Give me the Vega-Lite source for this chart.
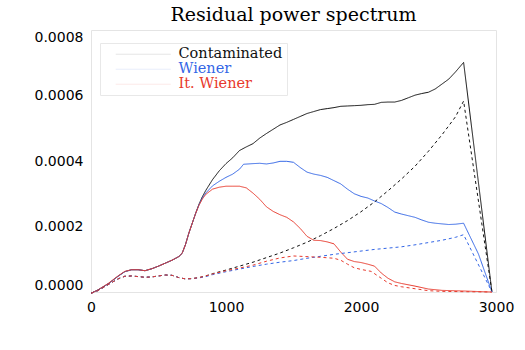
{
  "$schema": "https://vega.github.io/schema/vega-lite/v6.json",
  "width": 405,
  "height": 262,
  "autosize": {"type": "none"},
  "padding": {"left": 91, "top": 30, "right": 29, "bottom": 58},
  "background": "white",
  "title": {
    "text": "Residual power spectrum",
    "font": "DejaVu Serif",
    "fontSize": 19,
    "fontWeight": "normal",
    "color": "black",
    "anchor": "middle",
    "frame": "group",
    "baseline": "alphabetic",
    "offset": -10
  },
  "config": {
    "view": {"stroke": "#e4e4e4", "strokeWidth": 1},
    "axis": {
      "domain": false,
      "grid": false,
      "ticks": false,
      "labelFont": "DejaVu Sans",
      "labelFontSize": 14,
      "labelColor": "black",
      "title": null
    }
  },
  "data": {
    "values": [
      {"m": "Contaminated", "k": "solid", "x": 0, "y": -0.000004},
      {"m": "Contaminated", "k": "solid", "x": 50, "y": 0.000006},
      {"m": "Contaminated", "k": "solid", "x": 100, "y": 0.000018},
      {"m": "Contaminated", "k": "solid", "x": 130, "y": 0.000026},
      {"m": "Contaminated", "k": "solid", "x": 200, "y": 0.000048},
      {"m": "Contaminated", "k": "solid", "x": 250, "y": 0.000062},
      {"m": "Contaminated", "k": "solid", "x": 300, "y": 0.000068},
      {"m": "Contaminated", "k": "solid", "x": 350, "y": 0.000068},
      {"m": "Contaminated", "k": "solid", "x": 400, "y": 0.000065},
      {"m": "Contaminated", "k": "solid", "x": 450, "y": 0.000071},
      {"m": "Contaminated", "k": "solid", "x": 500, "y": 0.000079},
      {"m": "Contaminated", "k": "solid", "x": 550, "y": 0.000088},
      {"m": "Contaminated", "k": "solid", "x": 600, "y": 0.000097},
      {"m": "Contaminated", "k": "solid", "x": 650, "y": 0.000108},
      {"m": "Contaminated", "k": "solid", "x": 675, "y": 0.000118},
      {"m": "Contaminated", "k": "solid", "x": 700, "y": 0.000145},
      {"m": "Contaminated", "k": "solid", "x": 725, "y": 0.00018},
      {"m": "Contaminated", "k": "solid", "x": 750, "y": 0.00021},
      {"m": "Contaminated", "k": "solid", "x": 775, "y": 0.00024},
      {"m": "Contaminated", "k": "solid", "x": 800, "y": 0.000268},
      {"m": "Contaminated", "k": "solid", "x": 825, "y": 0.000291},
      {"m": "Contaminated", "k": "solid", "x": 850, "y": 0.00031},
      {"m": "Contaminated", "k": "solid", "x": 900, "y": 0.000343},
      {"m": "Contaminated", "k": "solid", "x": 950, "y": 0.00037},
      {"m": "Contaminated", "k": "solid", "x": 1000, "y": 0.000392},
      {"m": "Contaminated", "k": "solid", "x": 1050, "y": 0.00041},
      {"m": "Contaminated", "k": "solid", "x": 1100, "y": 0.000432},
      {"m": "Contaminated", "k": "solid", "x": 1150, "y": 0.000443},
      {"m": "Contaminated", "k": "solid", "x": 1200, "y": 0.000453},
      {"m": "Contaminated", "k": "solid", "x": 1250, "y": 0.00047},
      {"m": "Contaminated", "k": "solid", "x": 1300, "y": 0.000484},
      {"m": "Contaminated", "k": "solid", "x": 1350, "y": 0.000497},
      {"m": "Contaminated", "k": "solid", "x": 1400, "y": 0.00051},
      {"m": "Contaminated", "k": "solid", "x": 1450, "y": 0.000518},
      {"m": "Contaminated", "k": "solid", "x": 1500, "y": 0.000527},
      {"m": "Contaminated", "k": "solid", "x": 1550, "y": 0.000536},
      {"m": "Contaminated", "k": "solid", "x": 1600, "y": 0.000545},
      {"m": "Contaminated", "k": "solid", "x": 1650, "y": 0.000551},
      {"m": "Contaminated", "k": "solid", "x": 1700, "y": 0.000557},
      {"m": "Contaminated", "k": "solid", "x": 1750, "y": 0.00056},
      {"m": "Contaminated", "k": "solid", "x": 1800, "y": 0.000563},
      {"m": "Contaminated", "k": "solid", "x": 1850, "y": 0.000567},
      {"m": "Contaminated", "k": "solid", "x": 1900, "y": 0.000568},
      {"m": "Contaminated", "k": "solid", "x": 1950, "y": 0.000569},
      {"m": "Contaminated", "k": "solid", "x": 2000, "y": 0.00057},
      {"m": "Contaminated", "k": "solid", "x": 2050, "y": 0.000572},
      {"m": "Contaminated", "k": "solid", "x": 2100, "y": 0.000573},
      {"m": "Contaminated", "k": "solid", "x": 2150, "y": 0.000579},
      {"m": "Contaminated", "k": "solid", "x": 2200, "y": 0.00058},
      {"m": "Contaminated", "k": "solid", "x": 2250, "y": 0.00058},
      {"m": "Contaminated", "k": "solid", "x": 2300, "y": 0.000585},
      {"m": "Contaminated", "k": "solid", "x": 2350, "y": 0.000593},
      {"m": "Contaminated", "k": "solid", "x": 2400, "y": 0.000601},
      {"m": "Contaminated", "k": "solid", "x": 2450, "y": 0.000606},
      {"m": "Contaminated", "k": "solid", "x": 2500, "y": 0.00061},
      {"m": "Contaminated", "k": "solid", "x": 2550, "y": 0.00062},
      {"m": "Contaminated", "k": "solid", "x": 2600, "y": 0.000635},
      {"m": "Contaminated", "k": "solid", "x": 2650, "y": 0.00065},
      {"m": "Contaminated", "k": "solid", "x": 2700, "y": 0.000672},
      {"m": "Contaminated", "k": "solid", "x": 2760, "y": 0.000701},
      {"m": "Contaminated", "k": "solid", "x": 2970, "y": 0.0},

      {"m": "Wiener", "k": "solid", "x": 0, "y": -0.000004},
      {"m": "Wiener", "k": "solid", "x": 50, "y": 0.000006},
      {"m": "Wiener", "k": "solid", "x": 100, "y": 0.000018},
      {"m": "Wiener", "k": "solid", "x": 130, "y": 0.000026},
      {"m": "Wiener", "k": "solid", "x": 200, "y": 0.000048},
      {"m": "Wiener", "k": "solid", "x": 250, "y": 0.000062},
      {"m": "Wiener", "k": "solid", "x": 300, "y": 0.000068},
      {"m": "Wiener", "k": "solid", "x": 350, "y": 0.000068},
      {"m": "Wiener", "k": "solid", "x": 400, "y": 0.000065},
      {"m": "Wiener", "k": "solid", "x": 450, "y": 0.000071},
      {"m": "Wiener", "k": "solid", "x": 500, "y": 0.000079},
      {"m": "Wiener", "k": "solid", "x": 550, "y": 0.000088},
      {"m": "Wiener", "k": "solid", "x": 600, "y": 0.000097},
      {"m": "Wiener", "k": "solid", "x": 650, "y": 0.000108},
      {"m": "Wiener", "k": "solid", "x": 675, "y": 0.000118},
      {"m": "Wiener", "k": "solid", "x": 700, "y": 0.000145},
      {"m": "Wiener", "k": "solid", "x": 725, "y": 0.00018},
      {"m": "Wiener", "k": "solid", "x": 750, "y": 0.00021},
      {"m": "Wiener", "k": "solid", "x": 775, "y": 0.00024},
      {"m": "Wiener", "k": "solid", "x": 800, "y": 0.000266},
      {"m": "Wiener", "k": "solid", "x": 825, "y": 0.000287},
      {"m": "Wiener", "k": "solid", "x": 850, "y": 0.000302},
      {"m": "Wiener", "k": "solid", "x": 900, "y": 0.000324},
      {"m": "Wiener", "k": "solid", "x": 950, "y": 0.000338},
      {"m": "Wiener", "k": "solid", "x": 1000, "y": 0.00035},
      {"m": "Wiener", "k": "solid", "x": 1050, "y": 0.00036},
      {"m": "Wiener", "k": "solid", "x": 1100, "y": 0.000375},
      {"m": "Wiener", "k": "solid", "x": 1130, "y": 0.00039},
      {"m": "Wiener", "k": "solid", "x": 1200, "y": 0.000392},
      {"m": "Wiener", "k": "solid", "x": 1250, "y": 0.000393},
      {"m": "Wiener", "k": "solid", "x": 1300, "y": 0.000391},
      {"m": "Wiener", "k": "solid", "x": 1350, "y": 0.000394},
      {"m": "Wiener", "k": "solid", "x": 1400, "y": 0.000399},
      {"m": "Wiener", "k": "solid", "x": 1450, "y": 0.000399},
      {"m": "Wiener", "k": "solid", "x": 1500, "y": 0.000396},
      {"m": "Wiener", "k": "solid", "x": 1550, "y": 0.00038},
      {"m": "Wiener", "k": "solid", "x": 1600, "y": 0.000366},
      {"m": "Wiener", "k": "solid", "x": 1650, "y": 0.00036},
      {"m": "Wiener", "k": "solid", "x": 1700, "y": 0.000356},
      {"m": "Wiener", "k": "solid", "x": 1750, "y": 0.00035},
      {"m": "Wiener", "k": "solid", "x": 1800, "y": 0.00034},
      {"m": "Wiener", "k": "solid", "x": 1850, "y": 0.00033},
      {"m": "Wiener", "k": "solid", "x": 1900, "y": 0.000314},
      {"m": "Wiener", "k": "solid", "x": 1950, "y": 0.0003},
      {"m": "Wiener", "k": "solid", "x": 2000, "y": 0.000292},
      {"m": "Wiener", "k": "solid", "x": 2050, "y": 0.000287},
      {"m": "Wiener", "k": "solid", "x": 2100, "y": 0.000278},
      {"m": "Wiener", "k": "solid", "x": 2150, "y": 0.00027},
      {"m": "Wiener", "k": "solid", "x": 2200, "y": 0.000258},
      {"m": "Wiener", "k": "solid", "x": 2250, "y": 0.000244},
      {"m": "Wiener", "k": "solid", "x": 2300, "y": 0.000238},
      {"m": "Wiener", "k": "solid", "x": 2350, "y": 0.000233},
      {"m": "Wiener", "k": "solid", "x": 2400, "y": 0.000228},
      {"m": "Wiener", "k": "solid", "x": 2450, "y": 0.00022},
      {"m": "Wiener", "k": "solid", "x": 2500, "y": 0.000213},
      {"m": "Wiener", "k": "solid", "x": 2550, "y": 0.00021},
      {"m": "Wiener", "k": "solid", "x": 2600, "y": 0.000208},
      {"m": "Wiener", "k": "solid", "x": 2650, "y": 0.000206},
      {"m": "Wiener", "k": "solid", "x": 2700, "y": 0.000207},
      {"m": "Wiener", "k": "solid", "x": 2760, "y": 0.00021},
      {"m": "Wiener", "k": "solid", "x": 2870, "y": 0.000116},
      {"m": "Wiener", "k": "solid", "x": 2970, "y": 0.0},

      {"m": "It. Wiener", "k": "solid", "x": 0, "y": -0.000004},
      {"m": "It. Wiener", "k": "solid", "x": 50, "y": 0.000006},
      {"m": "It. Wiener", "k": "solid", "x": 100, "y": 0.000019},
      {"m": "It. Wiener", "k": "solid", "x": 130, "y": 0.000027},
      {"m": "It. Wiener", "k": "solid", "x": 200, "y": 0.000049},
      {"m": "It. Wiener", "k": "solid", "x": 250, "y": 0.000063},
      {"m": "It. Wiener", "k": "solid", "x": 300, "y": 0.000068},
      {"m": "It. Wiener", "k": "solid", "x": 350, "y": 0.000068},
      {"m": "It. Wiener", "k": "solid", "x": 400, "y": 0.000065},
      {"m": "It. Wiener", "k": "solid", "x": 450, "y": 0.000071},
      {"m": "It. Wiener", "k": "solid", "x": 500, "y": 0.000079},
      {"m": "It. Wiener", "k": "solid", "x": 550, "y": 0.000088},
      {"m": "It. Wiener", "k": "solid", "x": 600, "y": 0.000097},
      {"m": "It. Wiener", "k": "solid", "x": 650, "y": 0.000108},
      {"m": "It. Wiener", "k": "solid", "x": 675, "y": 0.000118},
      {"m": "It. Wiener", "k": "solid", "x": 700, "y": 0.000145},
      {"m": "It. Wiener", "k": "solid", "x": 725, "y": 0.00018},
      {"m": "It. Wiener", "k": "solid", "x": 750, "y": 0.00021},
      {"m": "It. Wiener", "k": "solid", "x": 775, "y": 0.00024},
      {"m": "It. Wiener", "k": "solid", "x": 800, "y": 0.000265},
      {"m": "It. Wiener", "k": "solid", "x": 825, "y": 0.000284},
      {"m": "It. Wiener", "k": "solid", "x": 850, "y": 0.000298},
      {"m": "It. Wiener", "k": "solid", "x": 900, "y": 0.000314},
      {"m": "It. Wiener", "k": "solid", "x": 950, "y": 0.00032},
      {"m": "It. Wiener", "k": "solid", "x": 1000, "y": 0.000323},
      {"m": "It. Wiener", "k": "solid", "x": 1050, "y": 0.000323},
      {"m": "It. Wiener", "k": "solid", "x": 1100, "y": 0.000323},
      {"m": "It. Wiener", "k": "solid", "x": 1150, "y": 0.000318},
      {"m": "It. Wiener", "k": "solid", "x": 1200, "y": 0.000302},
      {"m": "It. Wiener", "k": "solid", "x": 1250, "y": 0.000283},
      {"m": "It. Wiener", "k": "solid", "x": 1300, "y": 0.00026},
      {"m": "It. Wiener", "k": "solid", "x": 1350, "y": 0.000246},
      {"m": "It. Wiener", "k": "solid", "x": 1400, "y": 0.000236},
      {"m": "It. Wiener", "k": "solid", "x": 1450, "y": 0.000228},
      {"m": "It. Wiener", "k": "solid", "x": 1500, "y": 0.000214},
      {"m": "It. Wiener", "k": "solid", "x": 1550, "y": 0.000194},
      {"m": "It. Wiener", "k": "solid", "x": 1600, "y": 0.00017},
      {"m": "It. Wiener", "k": "solid", "x": 1650, "y": 0.000158},
      {"m": "It. Wiener", "k": "solid", "x": 1700, "y": 0.000157},
      {"m": "It. Wiener", "k": "solid", "x": 1750, "y": 0.000153},
      {"m": "It. Wiener", "k": "solid", "x": 1800, "y": 0.000147},
      {"m": "It. Wiener", "k": "solid", "x": 1850, "y": 0.000122},
      {"m": "It. Wiener", "k": "solid", "x": 1900, "y": 0.0001},
      {"m": "It. Wiener", "k": "solid", "x": 1950, "y": 0.000093},
      {"m": "It. Wiener", "k": "solid", "x": 2000, "y": 0.00009},
      {"m": "It. Wiener", "k": "solid", "x": 2050, "y": 0.000085},
      {"m": "It. Wiener", "k": "solid", "x": 2100, "y": 0.000079},
      {"m": "It. Wiener", "k": "solid", "x": 2150, "y": 0.000058},
      {"m": "It. Wiener", "k": "solid", "x": 2200, "y": 0.000042},
      {"m": "It. Wiener", "k": "solid", "x": 2250, "y": 0.000031},
      {"m": "It. Wiener", "k": "solid", "x": 2300, "y": 0.000026},
      {"m": "It. Wiener", "k": "solid", "x": 2400, "y": 0.000018},
      {"m": "It. Wiener", "k": "solid", "x": 2500, "y": 0.000009},
      {"m": "It. Wiener", "k": "solid", "x": 2600, "y": 0.000005},
      {"m": "It. Wiener", "k": "solid", "x": 2760, "y": 0.000003},
      {"m": "It. Wiener", "k": "solid", "x": 2970, "y": 0.0},

      {"m": "Contaminated", "k": "dashed", "x": 0, "y": -0.000004},
      {"m": "Contaminated", "k": "dashed", "x": 50, "y": 0.000004},
      {"m": "Contaminated", "k": "dashed", "x": 100, "y": 0.000016},
      {"m": "Contaminated", "k": "dashed", "x": 150, "y": 0.000028},
      {"m": "Contaminated", "k": "dashed", "x": 200, "y": 0.00004},
      {"m": "Contaminated", "k": "dashed", "x": 250, "y": 0.000048},
      {"m": "Contaminated", "k": "dashed", "x": 300, "y": 0.000049},
      {"m": "Contaminated", "k": "dashed", "x": 350, "y": 0.000047},
      {"m": "Contaminated", "k": "dashed", "x": 400, "y": 0.000045},
      {"m": "Contaminated", "k": "dashed", "x": 450, "y": 0.000046},
      {"m": "Contaminated", "k": "dashed", "x": 500, "y": 0.000049},
      {"m": "Contaminated", "k": "dashed", "x": 550, "y": 0.000052},
      {"m": "Contaminated", "k": "dashed", "x": 600, "y": 0.000051},
      {"m": "Contaminated", "k": "dashed", "x": 650, "y": 0.000044},
      {"m": "Contaminated", "k": "dashed", "x": 700, "y": 0.00004},
      {"m": "Contaminated", "k": "dashed", "x": 750, "y": 0.000041},
      {"m": "Contaminated", "k": "dashed", "x": 800, "y": 0.000044},
      {"m": "Contaminated", "k": "dashed", "x": 850, "y": 0.000049},
      {"m": "Contaminated", "k": "dashed", "x": 900, "y": 0.000056},
      {"m": "Contaminated", "k": "dashed", "x": 1000, "y": 0.000067},
      {"m": "Contaminated", "k": "dashed", "x": 1100, "y": 0.000079},
      {"m": "Contaminated", "k": "dashed", "x": 1200, "y": 0.000091},
      {"m": "Contaminated", "k": "dashed", "x": 1300, "y": 0.000105},
      {"m": "Contaminated", "k": "dashed", "x": 1400, "y": 0.000119},
      {"m": "Contaminated", "k": "dashed", "x": 1500, "y": 0.000135},
      {"m": "Contaminated", "k": "dashed", "x": 1600, "y": 0.000152},
      {"m": "Contaminated", "k": "dashed", "x": 1700, "y": 0.000172},
      {"m": "Contaminated", "k": "dashed", "x": 1800, "y": 0.000194},
      {"m": "Contaminated", "k": "dashed", "x": 1900, "y": 0.000218},
      {"m": "Contaminated", "k": "dashed", "x": 2000, "y": 0.000245},
      {"m": "Contaminated", "k": "dashed", "x": 2100, "y": 0.000275},
      {"m": "Contaminated", "k": "dashed", "x": 2200, "y": 0.000309},
      {"m": "Contaminated", "k": "dashed", "x": 2300, "y": 0.000345},
      {"m": "Contaminated", "k": "dashed", "x": 2400, "y": 0.000384},
      {"m": "Contaminated", "k": "dashed", "x": 2500, "y": 0.00043},
      {"m": "Contaminated", "k": "dashed", "x": 2600, "y": 0.00048},
      {"m": "Contaminated", "k": "dashed", "x": 2700, "y": 0.000535},
      {"m": "Contaminated", "k": "dashed", "x": 2760, "y": 0.000583},
      {"m": "Contaminated", "k": "dashed", "x": 2970, "y": 0.0},

      {"m": "Wiener", "k": "dashed", "x": 0, "y": -0.000004},
      {"m": "Wiener", "k": "dashed", "x": 50, "y": 0.000004},
      {"m": "Wiener", "k": "dashed", "x": 100, "y": 0.000016},
      {"m": "Wiener", "k": "dashed", "x": 150, "y": 0.000028},
      {"m": "Wiener", "k": "dashed", "x": 200, "y": 0.00004},
      {"m": "Wiener", "k": "dashed", "x": 250, "y": 0.000048},
      {"m": "Wiener", "k": "dashed", "x": 300, "y": 0.000049},
      {"m": "Wiener", "k": "dashed", "x": 350, "y": 0.000047},
      {"m": "Wiener", "k": "dashed", "x": 400, "y": 0.000045},
      {"m": "Wiener", "k": "dashed", "x": 450, "y": 0.000046},
      {"m": "Wiener", "k": "dashed", "x": 500, "y": 0.000049},
      {"m": "Wiener", "k": "dashed", "x": 550, "y": 0.000052},
      {"m": "Wiener", "k": "dashed", "x": 600, "y": 0.000051},
      {"m": "Wiener", "k": "dashed", "x": 650, "y": 0.000044},
      {"m": "Wiener", "k": "dashed", "x": 700, "y": 0.00004},
      {"m": "Wiener", "k": "dashed", "x": 750, "y": 0.000041},
      {"m": "Wiener", "k": "dashed", "x": 800, "y": 0.000043},
      {"m": "Wiener", "k": "dashed", "x": 850, "y": 0.000047},
      {"m": "Wiener", "k": "dashed", "x": 900, "y": 0.000053},
      {"m": "Wiener", "k": "dashed", "x": 1000, "y": 0.000062},
      {"m": "Wiener", "k": "dashed", "x": 1100, "y": 0.00007},
      {"m": "Wiener", "k": "dashed", "x": 1200, "y": 0.000078},
      {"m": "Wiener", "k": "dashed", "x": 1300, "y": 0.000085},
      {"m": "Wiener", "k": "dashed", "x": 1400, "y": 0.000091},
      {"m": "Wiener", "k": "dashed", "x": 1500, "y": 0.000096},
      {"m": "Wiener", "k": "dashed", "x": 1600, "y": 0.000103},
      {"m": "Wiener", "k": "dashed", "x": 1700, "y": 0.000109},
      {"m": "Wiener", "k": "dashed", "x": 1800, "y": 0.000115},
      {"m": "Wiener", "k": "dashed", "x": 1900, "y": 0.00012},
      {"m": "Wiener", "k": "dashed", "x": 2000, "y": 0.000125},
      {"m": "Wiener", "k": "dashed", "x": 2100, "y": 0.00013},
      {"m": "Wiener", "k": "dashed", "x": 2200, "y": 0.000134},
      {"m": "Wiener", "k": "dashed", "x": 2300, "y": 0.000138},
      {"m": "Wiener", "k": "dashed", "x": 2400, "y": 0.000144},
      {"m": "Wiener", "k": "dashed", "x": 2500, "y": 0.000151},
      {"m": "Wiener", "k": "dashed", "x": 2600, "y": 0.000158},
      {"m": "Wiener", "k": "dashed", "x": 2700, "y": 0.000167},
      {"m": "Wiener", "k": "dashed", "x": 2760, "y": 0.000175},
      {"m": "Wiener", "k": "dashed", "x": 2970, "y": 0.0},

      {"m": "It. Wiener", "k": "dashed", "x": 0, "y": -0.000004},
      {"m": "It. Wiener", "k": "dashed", "x": 50, "y": 0.000004},
      {"m": "It. Wiener", "k": "dashed", "x": 100, "y": 0.000016},
      {"m": "It. Wiener", "k": "dashed", "x": 150, "y": 0.000028},
      {"m": "It. Wiener", "k": "dashed", "x": 200, "y": 0.00004},
      {"m": "It. Wiener", "k": "dashed", "x": 250, "y": 0.000048},
      {"m": "It. Wiener", "k": "dashed", "x": 300, "y": 0.000049},
      {"m": "It. Wiener", "k": "dashed", "x": 350, "y": 0.000047},
      {"m": "It. Wiener", "k": "dashed", "x": 400, "y": 0.000045},
      {"m": "It. Wiener", "k": "dashed", "x": 450, "y": 0.000046},
      {"m": "It. Wiener", "k": "dashed", "x": 500, "y": 0.000049},
      {"m": "It. Wiener", "k": "dashed", "x": 550, "y": 0.000052},
      {"m": "It. Wiener", "k": "dashed", "x": 600, "y": 0.000051},
      {"m": "It. Wiener", "k": "dashed", "x": 650, "y": 0.000044},
      {"m": "It. Wiener", "k": "dashed", "x": 700, "y": 0.00004},
      {"m": "It. Wiener", "k": "dashed", "x": 750, "y": 0.000041},
      {"m": "It. Wiener", "k": "dashed", "x": 800, "y": 0.000044},
      {"m": "It. Wiener", "k": "dashed", "x": 850, "y": 0.000049},
      {"m": "It. Wiener", "k": "dashed", "x": 900, "y": 0.000055},
      {"m": "It. Wiener", "k": "dashed", "x": 1000, "y": 0.000065},
      {"m": "It. Wiener", "k": "dashed", "x": 1100, "y": 0.000073},
      {"m": "It. Wiener", "k": "dashed", "x": 1200, "y": 0.000082},
      {"m": "It. Wiener", "k": "dashed", "x": 1300, "y": 0.000094},
      {"m": "It. Wiener", "k": "dashed", "x": 1400, "y": 0.000104},
      {"m": "It. Wiener", "k": "dashed", "x": 1500, "y": 0.00011},
      {"m": "It. Wiener", "k": "dashed", "x": 1600, "y": 0.000108},
      {"m": "It. Wiener", "k": "dashed", "x": 1700, "y": 0.000106},
      {"m": "It. Wiener", "k": "dashed", "x": 1800, "y": 0.000103},
      {"m": "It. Wiener", "k": "dashed", "x": 1850, "y": 0.000097},
      {"m": "It. Wiener", "k": "dashed", "x": 1900, "y": 0.000085},
      {"m": "It. Wiener", "k": "dashed", "x": 1950, "y": 0.000074},
      {"m": "It. Wiener", "k": "dashed", "x": 2000, "y": 0.000069},
      {"m": "It. Wiener", "k": "dashed", "x": 2075, "y": 0.000063},
      {"m": "It. Wiener", "k": "dashed", "x": 2150, "y": 0.000042},
      {"m": "It. Wiener", "k": "dashed", "x": 2200, "y": 0.000028},
      {"m": "It. Wiener", "k": "dashed", "x": 2250, "y": 0.00002},
      {"m": "It. Wiener", "k": "dashed", "x": 2300, "y": 0.000016},
      {"m": "It. Wiener", "k": "dashed", "x": 2400, "y": 0.00001},
      {"m": "It. Wiener", "k": "dashed", "x": 2500, "y": 0.000004},
      {"m": "It. Wiener", "k": "dashed", "x": 2600, "y": 0.000002},
      {"m": "It. Wiener", "k": "dashed", "x": 2760, "y": 0.000001},
      {"m": "It. Wiener", "k": "dashed", "x": 2970, "y": 0.0}
    ]
  },
  "mark": {"type": "line", "strokeWidth": 1, "clip": false},
  "encoding": {
    "x": {
      "field": "x",
      "type": "quantitative",
      "scale": {"domain": [0, 3000], "nice": false, "zero": false},
      "axis": {"values": [0, 1000, 2000, 3000], "format": "d", "labelPadding": 8, "labelFlush": false}
    },
    "y": {
      "field": "y",
      "type": "quantitative",
      "scale": {"domain": [0, 0.0008], "nice": false},
      "axis": {"values": [0, 0.0002, 0.0004, 0.0006, 0.0008], "format": ".4f", "labelPadding": 8, "labelFlush": true, "labelFlushOffset": 0}
    },
    "color": {
      "field": "m",
      "type": "nominal",
      "scale": {"domain": ["Contaminated", "Wiener", "It. Wiener"], "range": ["#111111", "#3366e6", "#e8392c"]},
      "legend": {
        "title": null,
        "orient": "none",
        "legendX": 9,
        "legendY": 13,
        "direction": "vertical",
        "symbolType": "M-5,0H5",
        "symbolSize": 121,
        "symbolStrokeWidth": 1,
        "symbolOpacity": 0.1,
        "symbolOffset": 32,
        "labelOffset": 28,
        "labelFont": "DejaVu Serif",
        "labelFontSize": 14.5,
        "rowPadding": 0,
        "padding": 4,
        "strokeColor": "#e8e8e8",
        "fillColor": "white",
        "encode": {
          "labels": {"update": {"fill": {"scale": "color", "field": "value"}}}
        }
      }
    },
    "strokeDash": {
      "field": "k",
      "type": "nominal",
      "scale": {"domain": ["solid", "dashed"], "range": [[1, 0], [3, 3]]},
      "legend": null
    }
  }
}
